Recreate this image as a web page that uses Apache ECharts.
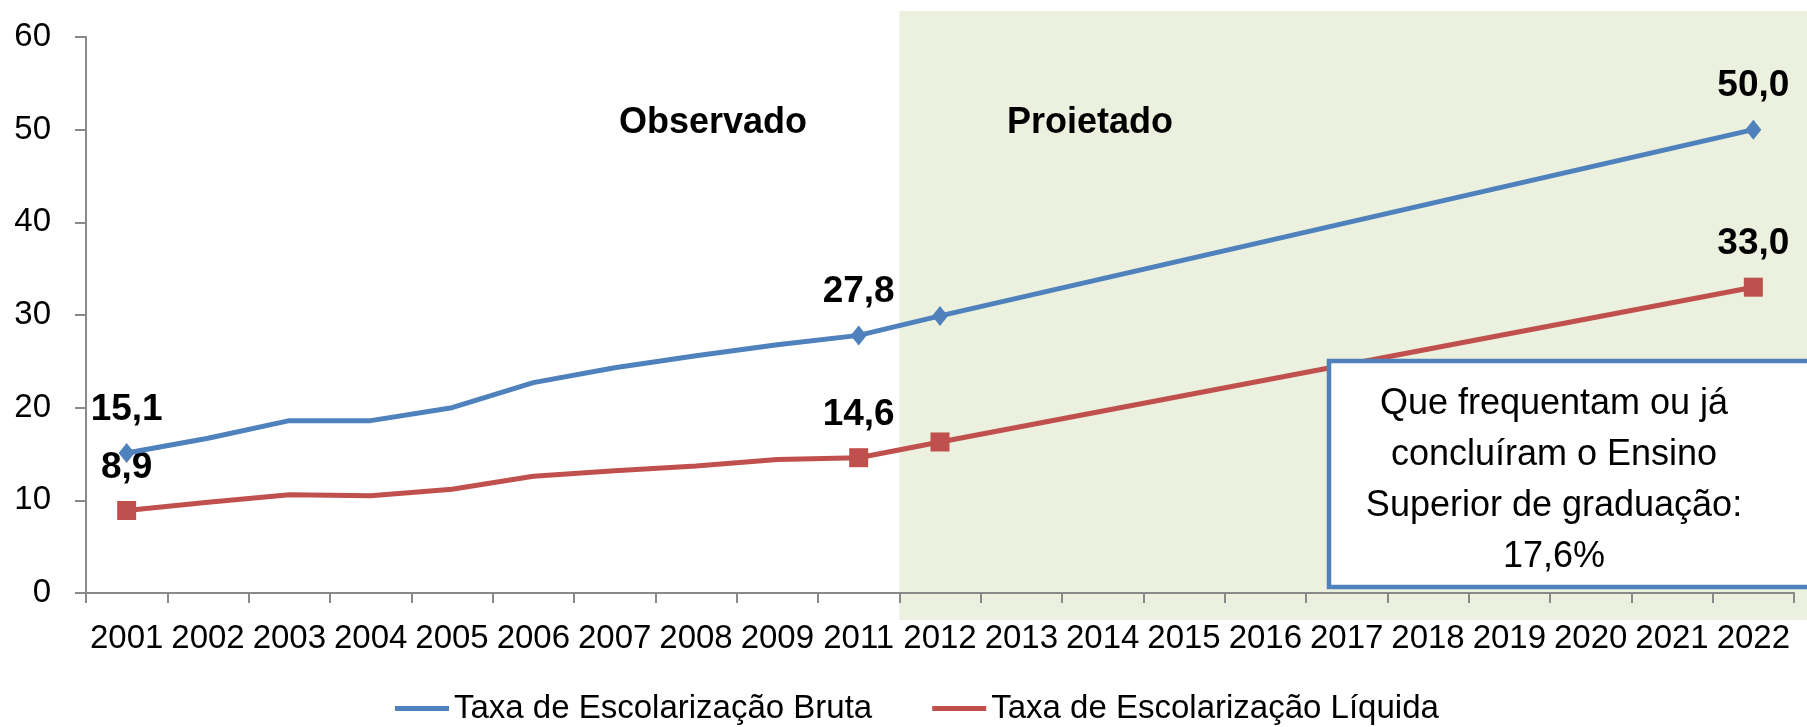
<!DOCTYPE html>
<html>
<head>
<meta charset="utf-8">
<script src="https://cdn.jsdelivr.net/npm/echarts@6/dist/echarts.min.js"></script>
<style>
html,body{margin:0;padding:0;background:#fff;}
#chart{width:1807px;height:727px;}
</style>
</head>
<body>
<div id="chart"></div>
<script>
const categories = ['2001','2002','2003','2004','2005','2006','2007','2008','2009','2011','2012','2013','2014','2015','2016','2017','2018','2019','2020','2021','2022'];
const brutaValues = [15.1, 16.7, 18.6, 18.6, 20.0, 22.7, 24.3, 25.6, 26.8, 27.8, 29.9, null, null, null, null, null, null, null, null, null, 50.0];
const liquidaValues = [8.9, 9.8, 10.6, 10.5, 11.2, 12.6, 13.2, 13.7, 14.4, 14.6, 16.3, null, null, null, null, null, null, null, null, null, 33.0];
const markerIndexes = [0, 9, 10, 20];
const labelIndexes = [0, 9, 20];
const yTicks = [0, 10, 20, 30, 40, 50, 60];
const seriesNames = ['Taxa de Escolarização Bruta', 'Taxa de Escolarização Líquida'];
const boxLines = ['Que frequentam ou já', 'concluíram o Ensino', 'Superior de graduação:', '17,6%'];

const FONT = '"Liberation Sans", Arial, sans-serif';
const BLUE = '#4F81BD', RED = '#C0504D', AXIS = '#898989';

function buildData(values, symbol) {
  return values.map((v, i) => ({
    value: v === null ? '-' : v,
    symbol: markerIndexes.includes(i) ? symbol : 'none',
    label: { show: labelIndexes.includes(i) }
  }));
}
const labelStyle = {
  position: 'top', distance: 15, color: '#000', fontFamily: FONT,
  fontWeight: 'bold', fontSize: 37,
  formatter: p => Number(p.value).toFixed(1).replace('.', ',')
};

const chart = echarts.init(document.getElementById('chart'), null, {renderer: 'canvas'});
const option = {
  animation: false,
  backgroundColor: '#fff',
  grid: { left: 86, right: 13, top: 37, bottom: 134, containLabel: false },
  legend: {
    left: 390, top: 687, itemGap: 60, itemWidth: 54, itemHeight: 5, icon: 'rect',
    textStyle: { fontFamily: FONT, fontSize: 33, color: '#000' },
    data: seriesNames
  },
  xAxis: {
    type: 'category', data: categories, boundaryGap: true,
    axisLine: { lineStyle: { color: AXIS, width: 2 } },
    axisTick: { show: true, length: 10, lineStyle: { color: AXIS, width: 2 }, interval: 0 },
    axisLabel: { interval: 0, margin: 29, color: '#000', fontFamily: FONT, fontSize: 33 },
    splitLine: { show: false }, z: 5
  },
  yAxis: {
    type: 'value', min: yTicks[0], max: yTicks[yTicks.length - 1], interval: 10,
    axisLine: { show: true, lineStyle: { color: AXIS, width: 2 } },
    axisTick: { show: true, length: 11, lineStyle: { color: AXIS, width: 2 } },
    axisLabel: { margin: 35, color: '#000', fontFamily: FONT, fontSize: 33 },
    splitLine: { show: false }
  },
  series: [
    {
      name: seriesNames[0], type: 'line', connectNulls: true, z: 4,
      data: buildData(brutaValues, 'diamond'), symbolSize: [16, 20],
      lineStyle: { color: BLUE, width: 5 }, itemStyle: { color: BLUE },
      label: labelStyle
    },
    {
      name: seriesNames[1], type: 'line', connectNulls: true, z: 3,
      data: buildData(liquidaValues, 'rect'), symbolSize: 19,
      lineStyle: { color: RED, width: 5 }, itemStyle: { color: RED },
      label: labelStyle
    }
  ]
};
chart.setOption(option);

// Shaded "Projected" region starting at the boundary between 2011 and 2012
const c2011 = chart.convertToPixel({xAxisIndex: 0}, '2011');
const c2012 = chart.convertToPixel({xAxisIndex: 0}, '2012');
const shadeLeft = (c2011 + c2012) / 2;

chart.setOption({
  graphic: [
    { type: 'rect', z: -10, zlevel: 0, silent: true,
      shape: { x: shadeLeft, y: 11, width: 1807 - shadeLeft, height: 609 },
      style: { fill: '#EBF1DE' } },
    { type: 'text', z: 10, left: 619, top: 105,
      style: { text: 'Observado', fontFamily: FONT, fontWeight: 'bold', fontSize: 36, fill: '#000' } },
    { type: 'text', z: 10, left: 1007, top: 105,
      style: { text: 'Proietado', fontFamily: FONT, fontWeight: 'bold', fontSize: 36, fill: '#000' } },
    { type: 'rect', z: 20, silent: true,
      shape: { x: 1329, y: 361, width: 560, height: 226 },
      style: { fill: '#fff', stroke: BLUE, lineWidth: 4.5 } },
    { type: 'text', z: 21,
      x: 1554, y: 379,
      style: { text: boxLines.join('\n'), fontFamily: FONT, fontSize: 36, lineHeight: 51,
               fill: '#000', align: 'center', verticalAlign: 'top' } }
  ]
});
</script>
</body>
</html>
